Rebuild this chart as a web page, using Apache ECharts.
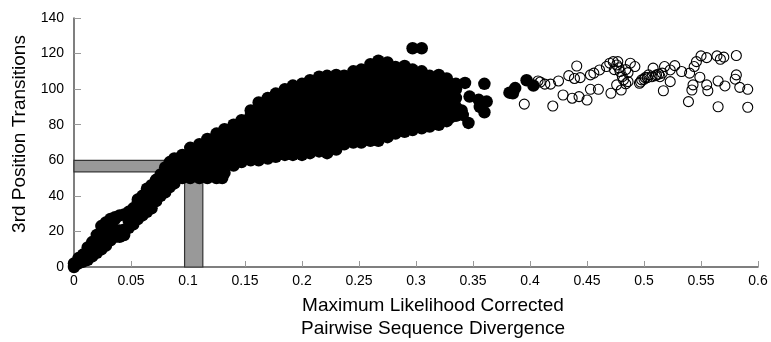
<!DOCTYPE html>
<html>
<head>
    <meta charset="utf-8">
    <title>Transitions vs divergence</title>
    <script src="https://cdn.jsdelivr.net/npm/echarts@6/dist/echarts.min.js"></script>
    <style>
        body { margin: 0; background: #fff; }
    </style>
</head>
<body>
<div id="main" style="width: 771px;height:342px;"></div>
<script type="text/javascript">
    // axis ticks
    const xTicks = [0, 0.6, 0.05];
    const yTicks = [0, 140, 20];

    // dense cloud of filled points, one column per x: [x, [y values]]
    const denseCols = [
        [0.000, [0, 2]],
        [0.004, [2, 5]],
        [0.008, [3, 7]],
        [0.012, [4, 8, 11]],
        [0.016, [6, 10, 14]],
        [0.020, [8, 13, 18]],
        [0.024, [10, 15, 20, 23]],
        [0.028, [12, 17, 22, 25]],
        [0.032, [15, 20, 25, 27]],
        [0.036, [17, 21, 27, 28]],
        [0.040, [17, 20.5, 29]],
        [0.044, [18, 21, 29.5]],
        [0.048, [22, 26, 31]],
        [0.052, [24, 28, 33]],
        [0.056, [27, 31, 36, 38]],
        [0.060, [29, 34, 39, 40]],
        [0.064, [31, 36, 41, 44]],
        [0.068, [33, 38, 43, 46]],
        [0.072, [37, 42, 47, 49]],
        [0.076, [40, 45, 50, 52]],
        [0.080, [42, 47, 52, 56]],
        [0.084, [45, 50, 55, 59]],
        [0.088, [47, 52, 57, 61]],
        [0.095, [50, 55, 60, 63]],
        [0.102, [50, 52.5, 57.5, 62.5, 67]],
        [0.110, [50, 55, 60, 65, 69]],
        [0.117, [50, 52.5, 57.5, 62.5, 67.5, 72]],
        [0.125, [50, 55, 60, 65, 70, 75]],
        [0.132, [53, 57.5, 62.5, 67.5, 72.5, 77.5]],
        [0.140, [57, 60, 65, 70, 75, 80]],
        [0.147, [59, 62.5, 67.5, 72.5, 77.5, 82.5]],
        [0.155, [60, 65, 70, 75, 80, 85, 88]],
        [0.162, [60, 62.5, 67.5, 72.5, 77.5, 82.5, 87.5, 92.5]],
        [0.170, [61, 65, 70, 75, 80, 85, 90, 95]],
        [0.177, [62, 67.5, 72.5, 77.5, 82.5, 87.5, 92.5, 97.5]],
        [0.185, [63, 65, 70, 75, 80, 85, 90, 95, 100]],
        [0.192, [63, 67.5, 72.5, 77.5, 82.5, 87.5, 92.5, 97.5, 102]],
        [0.200, [63, 65, 70, 75, 80, 85, 90, 95, 100, 103]],
        [0.207, [64, 67.5, 72.5, 77.5, 82.5, 87.5, 92.5, 97.5, 102.5, 105]],
        [0.215, [65, 70, 75, 80, 85, 90, 95, 100, 105, 107]],
        [0.222, [64, 67.5, 72.5, 77.5, 82.5, 87.5, 92.5, 97.5, 102.5, 107.5]],
        [0.230, [66, 70, 75, 80, 85, 90, 95, 100, 105, 108]],
        [0.237, [69, 72.5, 77.5, 82.5, 87.5, 92.5, 97.5, 102.5, 107.5]],
        [0.245, [70, 75, 80, 85, 90, 95, 100, 105, 110]],
        [0.252, [70, 72.5, 77.5, 82.5, 87.5, 92.5, 97.5, 102.5, 107.5, 111]],
        [0.260, [71, 75, 80, 85, 90, 95, 100, 105, 110, 114]],
        [0.267, [71, 72.5, 77.5, 82.5, 87.5, 92.5, 97.5, 102.5, 107.5, 112.5, 116]],
        [0.275, [73, 75, 80, 85, 90, 95, 100, 105, 110, 115]],
        [0.282, [75, 77.5, 82.5, 87.5, 92.5, 97.5, 102.5, 107.5, 112.5]],
        [0.290, [76, 80, 85, 90, 95, 100, 105, 110, 113]],
        [0.297, [77, 82.5, 87.5, 92.5, 97.5, 102.5, 107.5, 111]],
        [0.305, [78, 80, 85, 90, 95, 100, 105, 110]],
        [0.312, [79, 82.5, 87.5, 92.5, 97.5, 102.5, 107.5]],
        [0.320, [80, 85, 90, 95, 100, 105, 108]],
        [0.327, [82, 87.5, 92.5, 97.5, 102.5, 106]],
        [0.335, [85, 90, 95, 100, 103]]
    ];

    // scattered filled points outside the dense cloud
    const filledExtra = [
        [0.130, 50], [0.297, 123], [0.305, 123],
        [0.341, 85.5], [0.343, 103.5], [0.347, 95.8], [0.346, 81],
        [0.340, 88], [0.355, 94], [0.356, 90], [0.360, 87],
        [0.360, 103], [0.362, 93], [0.330, 84],
        [0.382, 98], [0.385, 97.7], [0.387, 100.6], [0.397, 105], [0.403, 102]
    ];

    // open circles
    const openPoints = [
        [0.395, 91.6], [0.407, 104.6], [0.409, 104], [0.413, 102.8], [0.418, 102.8],
        [0.420, 90.5], [0.425, 104.6], [0.429, 96.7], [0.434, 107.6], [0.437, 94.9],
        [0.439, 106], [0.441, 113], [0.444, 106.5], [0.443, 95.8], [0.450, 93.9],
        [0.453, 99.9], [0.453, 108], [0.456, 109], [0.460, 99.9], [0.461, 110.8],
        [0.467, 112.7], [0.470, 114.6], [0.471, 97.7], [0.473, 115.5], [0.474, 111],
        [0.476, 113.6], [0.477, 115.5], [0.476, 102.4], [0.478, 112], [0.479, 109.9],
        [0.480, 99.5], [0.481, 107], [0.482, 105.2], [0.484, 103], [0.484, 111],
        [0.486, 109.3], [0.488, 114.6], [0.486, 104.2], [0.492, 112.7], [0.496, 103.3],
        [0.497, 104], [0.498, 105.2], [0.500, 105.5], [0.501, 106.5], [0.503, 106.5],
        [0.504, 108], [0.507, 107], [0.508, 111.8], [0.510, 107.5], [0.511, 108],
        [0.513, 108.5], [0.514, 107], [0.516, 109], [0.517, 99.1], [0.518, 112.7],
        [0.523, 104.2], [0.523, 110.8], [0.527, 113.2], [0.533, 109.9], [0.539, 93],
        [0.540, 109], [0.542, 99.5], [0.543, 102.4], [0.544, 112.7], [0.546, 115.5],
        [0.549, 106.7], [0.550, 118.7], [0.555, 117.7], [0.555, 102.4], [0.556, 99.1],
        [0.564, 118.7], [0.565, 90.1], [0.567, 116.8], [0.565, 104.6], [0.570, 118],
        [0.571, 101.8], [0.580, 105.6], [0.581, 118.9], [0.581, 108], [0.584, 101],
        [0.591, 99.9], [0.591, 89.8]
    ];

    // gray guide bars: [x0, x1, y0, y1]
    const hBar = [0, 0.1, 53.5, 60];
    const vBar = [0.097, 0.113, 0, 56];

    let filled = [];
    denseCols.forEach(function (c) {
        c[1].forEach(function (y) { filled.push([c[0], y]); });
    });
    filled = filled.concat(filledExtra);

    function barArea(b) {
        return [{ coord: [b[0], b[2]] }, { coord: [b[1], b[3]] }];
    }

    let myChart = echarts.init(document.getElementById('main'));
    const font = 'Liberation Sans, Arial, sans-serif';

    myChart.setOption({
        animation: false,
        grid: { left: 74, right: 13, top: 18, bottom: 75, outerBoundsMode: 'none', containLabel: false },
        xAxis: {
            type: 'value',
            min: xTicks[0], max: xTicks[1], interval: xTicks[2],
            name: 'Maximum Likelihood Corrected\nPairwise Sequence Divergence',
            nameLocation: 'middle',
            nameGap: 27,
            nameTextStyle: {
                fontFamily: font, fontSize: 19, color: '#000',
                lineHeight: 23, align: 'center', verticalAlign: 'top',
                padding: [0, 0, 0, 34]
            },
            axisLine: { lineStyle: { color: '#555', width: 1.5 } },
            axisTick: { inside: true, length: 6, lineStyle: { color: '#999' } },
            axisLabel: { fontFamily: font, fontSize: 14, color: '#000', margin: 7 },
            splitLine: { show: false }
        },
        yAxis: {
            type: 'value',
            min: yTicks[0], max: yTicks[1], interval: yTicks[2],
            name: '3rd Position Transitions',
            nameLocation: 'middle',
            nameGap: 42,
            nameTextStyle: {
                fontFamily: font, fontSize: 19, color: '#000',
                padding: [0, 0, 0, 17]
            },
            axisLine: { show: true, lineStyle: { color: '#555', width: 1.5 } },
            axisTick: { show: true, inside: true, length: 7, lineStyle: { color: '#999' } },
            axisLabel: { fontFamily: font, fontSize: 14, color: '#000', margin: 10 },
            splitLine: { show: false }
        },
        series: [
            {
                type: 'scatter',
                data: [],
                z: 1,
                markArea: {
                    silent: true,
                    itemStyle: { color: '#999', borderColor: '#333', borderWidth: 1.2 },
                    data: [barArea(hBar), barArea(vBar)]
                }
            },
            {
                type: 'scatter',
                data: filled,
                z: 3,
                symbol: 'circle',
                symbolSize: 12.5,
                itemStyle: { color: '#000', opacity: 1 }
            },
            {
                type: 'scatter',
                data: openPoints,
                z: 2,
                symbol: 'circle',
                symbolSize: 10,
                itemStyle: { color: 'rgba(255,255,255,0)', borderColor: '#000', borderWidth: 1.1, opacity: 1 }
            }
        ]
    });
</script>
</body>
</html>
